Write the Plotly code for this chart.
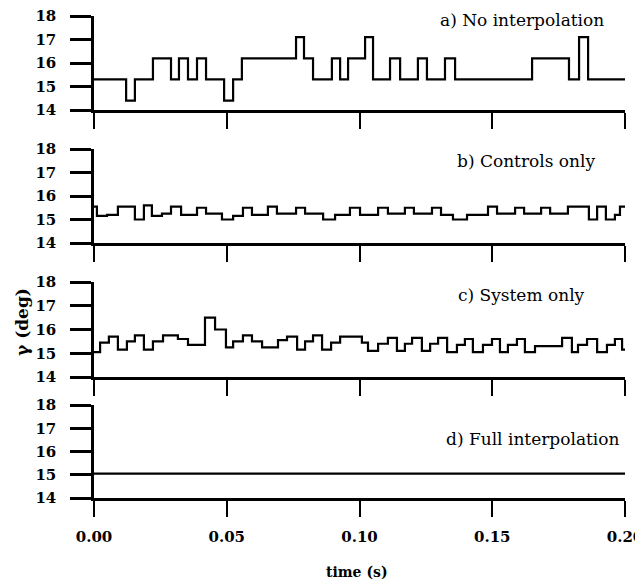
import plotly.graph_objects as go

# ---------------- data ----------------
a_time = [0, 0.0121, 0.0154, 0.0222, 0.0290, 0.0320, 0.0354, 0.0388, 0.0422, 0.0490,
          0.0524, 0.0557, 0.0761, 0.0791, 0.0825, 0.0896, 0.0927, 0.0957, 0.1021, 0.1051,
          0.1115, 0.1153, 0.1220, 0.1254, 0.1322, 0.1360, 0.1650, 0.1789, 0.1827, 0.1861, 0.2000]
a_gamma = [15.3, 14.4, 15.3, 16.2, 15.3, 16.2, 15.3, 16.2, 15.3, 14.4,
           15.3, 16.2, 17.1, 16.2, 15.3, 16.2, 15.3, 16.2, 17.1, 15.3,
           16.2, 15.3, 16.2, 15.3, 16.2, 15.3, 16.2, 15.3, 17.1, 15.3, 15.3]

b_time = [0, 0.0011, 0.0049, 0.0090, 0.0154, 0.0188, 0.0218, 0.0256, 0.0290, 0.0328,
          0.0388, 0.0422, 0.0482, 0.0524, 0.0561, 0.0595, 0.0655, 0.0689, 0.0761, 0.0795,
          0.0863, 0.0908, 0.0964, 0.1002, 0.1070, 0.1107, 0.1171, 0.1205, 0.1273, 0.1307,
          0.1352, 0.1405, 0.1484, 0.1518, 0.1586, 0.1620, 0.1684, 0.1718, 0.1785, 0.1864,
          0.1895, 0.1928, 0.1962, 0.1981, 0.2000]
b_gamma = [15.55, 15.15, 15.2, 15.55, 15.0, 15.6, 15.15, 15.25, 15.55, 15.2,
           15.5, 15.25, 15.0, 15.15, 15.5, 15.2, 15.55, 15.25, 15.5, 15.25,
           15.0, 15.2, 15.5, 15.2, 15.5, 15.25, 15.5, 15.25, 15.5, 15.2,
           15.0, 15.2, 15.55, 15.25, 15.5, 15.25, 15.5, 15.25, 15.55, 15.0,
           15.55, 15.0, 15.2, 15.55, 15.55]

c_time = [0, 0.0023, 0.0056, 0.0090, 0.0124, 0.0154, 0.0188, 0.0222, 0.0260, 0.0316,
          0.0354, 0.0418, 0.0456, 0.0497, 0.0524, 0.0561, 0.0595, 0.0633, 0.0693, 0.0727,
          0.0765, 0.0795, 0.0825, 0.0859, 0.0893, 0.0927, 0.1009, 0.1032, 0.1070, 0.1107,
          0.1141, 0.1171, 0.1198, 0.1235, 0.1266, 0.1296, 0.1330, 0.1367, 0.1397, 0.1427,
          0.1465, 0.1499, 0.1529, 0.1559, 0.1593, 0.1623, 0.1661, 0.1763, 0.1800, 0.1823,
          0.1857, 0.1895, 0.1932, 0.1962, 0.1989, 0.2000]
c_gamma = [15.05, 15.45, 15.7, 15.15, 15.5, 15.75, 15.15, 15.5, 15.75, 15.6,
           15.35, 16.5, 16.0, 15.25, 15.5, 15.75, 15.5, 15.25, 15.55, 15.7,
           15.15, 15.5, 15.75, 15.15, 15.45, 15.7, 15.45, 15.1, 15.4, 15.65,
           15.1, 15.4, 15.65, 15.1, 15.4, 15.65, 15.05, 15.35, 15.6, 15.05,
           15.35, 15.6, 15.05, 15.35, 15.6, 15.05, 15.3, 15.65, 15.05, 15.35,
           15.6, 15.05, 15.35, 15.6, 15.15, 15.15]

d_time = [0, 0.2]
d_gamma = [15.05, 15.05]

panel_labels = ["a) No interpolation", "b) Controls only", "c) System only", "d) Full interpolation"]
x_ticks = [0.00, 0.05, 0.10, 0.15, 0.20]
y_ticks = [14, 15, 16, 17, 18]

series = [(a_time, a_gamma), (b_time, b_gamma), (c_time, c_gamma), (d_time, d_gamma)]

# ---------------- figure ----------------
# the page body has an 8px default margin, so the figure is placed at (8, 8)
OFF = 8
W, H = 643 - OFF, 587 - OFF
ML, MR, MT, MB = 94 - OFF, 18, 16 - OFF, 89
plot_h = H - MT - MB
plot_w = W - ML - MR

def yfrac(px):  # px in page coordinates
    return (H - MB - (px - OFF)) / plot_h

def xfrac(px):
    return (px - OFF - ML) / plot_w

panel_px = [(16, 110), (149, 243), (282, 377), (405, 498)]
label_pos = [(606, 17.85), (597, 17.5), (587, 17.45), (622, 16.55)]

FONT = "DejaVu Serif"
fig = go.Figure()
layout = dict(
    width=W, height=H,
    margin=dict(l=ML, r=MR, t=MT, b=MB, autoexpand=False),
    paper_bgcolor="white", plot_bgcolor="white",
    showlegend=False,
    font=dict(family=FONT, color="black"),
)

annotations = []
for i, ((tt, gg), (top, bot)) in enumerate(zip(series, panel_px)):
    n = "" if i == 0 else str(i + 1)
    fig.add_trace(go.Scatter(x=tt, y=gg, mode="lines", line=dict(color="black", width=2.2, shape="hv"),
                             xaxis="x" + n, yaxis="y" + n, hoverinfo="skip", cliponaxis=False))
    layout["xaxis" + n] = dict(
        domain=[0, 1], anchor="y" + n, range=[0, 0.2], automargin=False,
        tickvals=x_ticks, ticktext=["%.2f" % v for v in x_ticks],
        showticklabels=(i == 3), ticklabeloverflow="allow",
        ticks="outside", ticklen=16, tickwidth=2.2, tickcolor="black",
        showline=True, linecolor="black", linewidth=2.5,
        showgrid=False, zeroline=False,
        tickfont=dict(family=FONT, size=15, color="black", weight="bold"),
        ticklabelstandoff=7,
    )
    layout["yaxis" + n] = dict(
        domain=[yfrac(bot), yfrac(top)], anchor="x" + n, range=[14, 18], automargin=False,
        tickvals=y_ticks, ticktext=[str(v) for v in y_ticks], ticklabeloverflow="allow",
        ticks="outside", ticklen=21, tickwidth=2.5, tickcolor="black",
        showline=True, linecolor="black", linewidth=2.5,
        showgrid=False, zeroline=False,
        tickfont=dict(family=FONT, size=15, color="black", weight="bold"),
        ticklabelstandoff=11,
    )
    px_r, yv = label_pos[i]
    annotations.append(dict(
        text=panel_labels[i], xref="paper", x=xfrac(px_r), xanchor="right",
        yref="y" + n, y=yv, yanchor="middle", showarrow=False,
        font=dict(family=FONT, size=17, color="black"),
    ))

annotations.append(dict(
    text="γ (deg)", xref="paper", x=xfrac(22), xanchor="center",
    yref="paper", y=yfrac(322), yanchor="middle", textangle=-90, showarrow=False,
    font=dict(family=FONT, size=17, color="black", weight="bold"),
))
annotations.append(dict(
    text="time (s)", xref="paper", x=xfrac(357), xanchor="center",
    yref="paper", y=yfrac(572), yanchor="middle", showarrow=False,
    font=dict(family=FONT, size=14, color="black", weight="bold"),
))
layout["annotations"] = annotations
fig.update_layout(**layout)
fig.write_html("out.html")
